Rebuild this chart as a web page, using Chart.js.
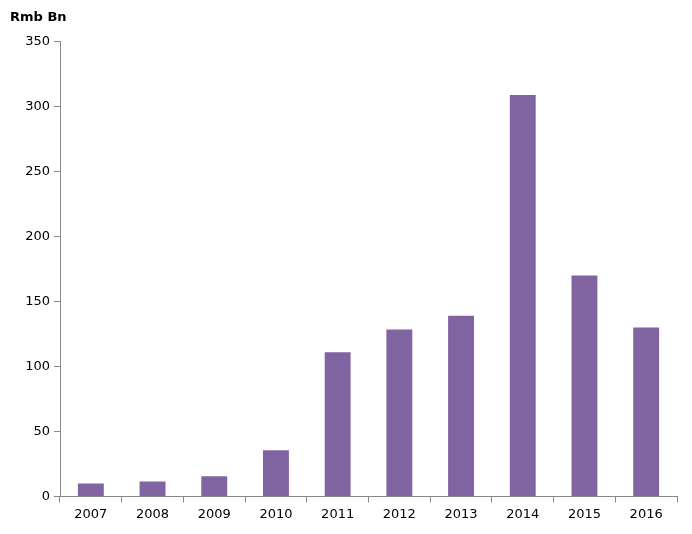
<!DOCTYPE html>
<html>
<head>
<meta charset="utf-8">
<script src="https://cdn.jsdelivr.net/npm/chart.js@4/dist/chart.umd.min.js"></script>
<style>
  html, body { margin: 0; padding: 0; background: #fff; }
  #wrap { width: 692px; height: 534px; }
</style>
</head>
<body>
<div id="wrap"><canvas id="c"></canvas></div>
<script>
  const years = ["2007", "2008", "2009", "2010", "2011", "2012", "2013", "2014", "2015", "2016"];
  const values = [10, 11.5, 15.5, 35.5, 111, 128.5, 139, 309, 170, 130];
  const unitLabel = "Rmb Bn";

  const font = { family: "Verdana, 'DejaVu Sans', sans-serif", size: 13 };

  new Chart(document.getElementById("c"), {
    type: "bar",
    data: {
      labels: years,
      datasets: [{
        data: values,
        backgroundColor: "#8064A2",
        categoryPercentage: 0.84,
        barPercentage: 0.5,
      }],
    },
    options: {
      responsive: true,
      maintainAspectRatio: false,
      animation: false,
      layout: { padding: { left: 10, right: 15, top: 0, bottom: 8 } },
      plugins: {
        legend: { display: false },
        tooltip: { enabled: false },
        title: {
          display: true,
          text: unitLabel,
          align: "start",
          color: "#000",
          font,
          padding: { top: 10, bottom: 16 },
        },
      },
      scales: {
        x: {
          grid: { drawOnChartArea: false, drawTicks: true, tickLength: 6, color: "#888" },
          border: { color: "#888" },
          ticks: { color: "#000", font, padding: 4 },
        },
        y: {
          min: 0,
          max: 350,
          afterFit: (s) => { s.width = 50; },
          grid: { drawOnChartArea: false, drawTicks: true, tickLength: 6, color: "#888" },
          border: { color: "#888" },
          ticks: { stepSize: 50, color: "#000", font, padding: 4 },
        },
      },
    },
  });
</script>
</body>
</html>
